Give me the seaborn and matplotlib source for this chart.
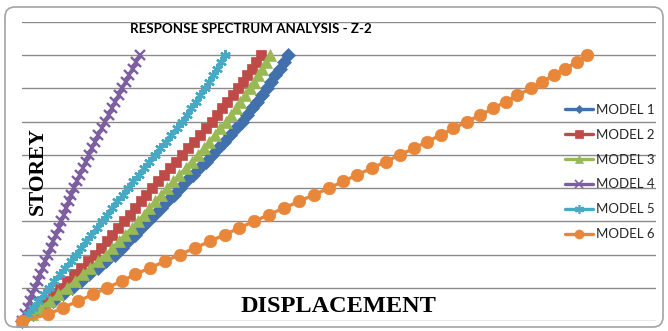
import matplotlib
matplotlib.use("Agg")
import matplotlib.pyplot as plt
from matplotlib.lines import Line2D
from matplotlib.patches import FancyBboxPatch
from matplotlib.transforms import IdentityTransform
import pandas as pd
import seaborn as sns

# Storey numbers (ground = 0) and peak displacement of each model
storeys = list(range(41))

model_1 = [0, 3.6, 6.7, 9.7, 12.8, 15.8,
           18.5, 21.2, 23.9, 26.6, 29.3,
           31.4, 33.5, 35.5, 37.6, 39.7,
           41.7, 43.7, 45.8, 47.8, 49.8,
           51.8, 53.8, 55.9, 57.9, 59.9,
           61.8, 63.7, 65.6, 67.5, 69.4,
           71.0, 72.6, 74.1, 75.7, 77.3,
           78.6, 79.9, 81.3, 82.6, 83.9]

model_2 = [0, 2.8, 5.1, 7.4, 9.7, 12.0,
           14.2, 16.4, 18.6, 20.8, 23.0,
           24.8, 26.7, 28.5, 30.4, 32.2,
           34.0, 35.7, 37.5, 39.2, 41.0,
           42.9, 44.8, 46.7, 48.6, 50.5,
           52.4, 54.3, 56.1, 58.0, 59.9,
           61.5, 63.2, 64.8, 66.5, 68.1,
           69.6, 71.0, 72.5, 73.9, 75.4]

model_3 = [0, 3.3, 6.0, 8.8, 11.5, 14.2,
           16.7, 19.1, 21.6, 24.0, 26.5,
           28.5, 30.5, 32.6, 34.6, 36.6,
           38.4, 40.2, 42.1, 43.9, 45.7,
           47.7, 49.6, 51.6, 53.5, 55.5,
           57.3, 59.1, 60.8, 62.6, 64.4,
           65.9, 67.4, 68.9, 70.4, 71.9,
           73.2, 74.4, 75.7, 76.9, 78.2]

model_4 = [0, 1.0, 1.8, 2.5, 3.3, 4.1,
           4.9, 5.7, 6.6, 7.4, 8.2,
           9.0, 9.9, 10.7, 11.6, 12.4,
           13.2, 14.0, 14.8, 15.6, 16.4,
           17.3, 18.2, 19.2, 20.1, 21.0,
           22.0, 23.1, 24.1, 25.2, 26.2,
           27.3, 28.4, 29.4, 30.5, 31.6,
           32.7, 33.8, 34.9, 36.0, 37.1]

model_5 = [0, 2.0, 3.6, 5.2, 6.9, 8.5,
           10.2, 11.9, 13.6, 15.3, 17.0,
           18.6, 20.3, 21.9, 23.6, 25.2,
           26.8, 28.5, 30.1, 31.8, 33.4,
           35.1, 36.8, 38.5, 40.2, 41.9,
           43.6, 45.3, 47.1, 48.8, 50.5,
           51.9, 53.4, 54.8, 56.3, 57.7,
           59.0, 60.2, 61.4, 62.7, 63.9]

model_6 = [0, 8.2, 12.9, 17.7, 22.4, 26.8,
           31.5, 35.6, 40.4, 45.1, 49.8,
           54.6, 59.3, 64.0, 68.5, 73.2,
           77.9, 82.6, 87.4, 92.1, 96.8,
           101.3, 105.7, 110.4, 114.8, 119.2,
           123.7, 127.8, 132.2, 136.0, 140.4,
           144.5, 148.6, 152.7, 156.2, 160.6,
           164.0, 167.8, 171.3, 175.1, 178.2]

model_names = ["MODEL 1", "MODEL 2", "MODEL 3", "MODEL 4", "MODEL 5", "MODEL 6"]
series = [model_1, model_2, model_3, model_4, model_5, model_6]

title = "RESPONSE SPECTRUM ANALYSIS - Z-2"
x_label = "DISPLACEMENT"
y_label = "STOREY"

colors = ["#4170AD", "#BE4B48", "#98B954", "#7D5FA0", "#46AAC5", "#E8873A"]
markers = ["D", "s", "^", "x", (6, 2, 0), "o"]
marker_sizes = [7.5, 7.0, 8.5, 7.0, 7.5, 9.0]
legend_marker_sizes = [4.5, 6.0, 5.5, 5.5, 6.5, 6.5]
LINE_ART = ("x", (6, 2, 0))

df = pd.concat(
    [pd.DataFrame({"Displacement": vals, "Storey": storeys, "Model": name})
     for name, vals in zip(model_names, series)],
    ignore_index=True,
)

sns.set_theme(style="white")
plt.rcParams["font.family"] = ["Lato", "DejaVu Sans"]

W, H = 668, 331
fig = plt.figure(figsize=(W / 100, H / 100), dpi=100)
fig.patch.set_facecolor("white")

# rounded chart-area border
fig.add_artist(FancyBboxPatch((5, H - 327), 658, 320,
                              boxstyle="round,pad=0,rounding_size=10",
                              transform=IdentityTransform(),
                              facecolor="none", edgecolor="#a3a3a3", linewidth=1.2))

ax = fig.add_axes([22 / W, 1 - 321 / H, 634 / W, 299 / H])
ax.set_facecolor("none")

# one call per model so filled and line-art markers can coexist
for name, c, mk, ms in zip(model_names, colors, markers, marker_sizes):
    sub = df[df["Model"] == name]
    line_art = mk in LINE_ART
    sns.lineplot(data=sub, x="Displacement", y="Storey", color=c,
                 marker=mk, markersize=ms, markerfacecolor=c, markeredgecolor=c,
                 markeredgewidth=1.7 if line_art else 0.5,
                 sort=False, estimator=None, linewidth=2.4, legend=False,
                 clip_on=False, ax=ax)

ax.set_xlim(0, 200)
ax.set_ylim(0, 45)
ax.set_yticks(range(0, 46, 5))
ax.set_xticks([])
ax.tick_params(left=False, bottom=False, labelleft=False, labelbottom=False)
ax.grid(axis="y", color="#8a8a8a", linewidth=1.0)
ax.set_axisbelow(True)
for s in ax.spines.values():
    s.set_visible(False)
ax.set_xlabel("")
ax.set_ylabel("")

fig.text(251 / W, 1 - 29 / H, title, ha="center", va="center",
         fontsize=9.6, fontweight="bold", color="black")
fig.text(338 / W, 1 - 307 / H, x_label, ha="center", va="center",
         fontsize=17.5, fontweight="bold", family="Liberation Serif", color="black")
fig.text(38 / W, 1 - 171 / H, y_label, ha="center", va="center", rotation=90,
         fontsize=15.5, fontweight="bold", family="Liberation Serif", color="black")

handles = [Line2D([], [], color=c, lw=2.4, marker=mk, markersize=ms,
                  markerfacecolor=c, markeredgecolor=c,
                  markeredgewidth=1.2 if mk in LINE_ART else 0.5)
           for c, mk, ms in zip(colors, markers, legend_marker_sizes)]
fig.legend(handles, model_names, loc="center left",
           bbox_to_anchor=(565 / W, 1 - 172 / H), frameon=False,
           fontsize=9.5, handlelength=2.1, handletextpad=0.25,
           labelspacing=0.98, borderpad=0, borderaxespad=0)

fig.savefig("out.png", dpi=100, facecolor="white")
